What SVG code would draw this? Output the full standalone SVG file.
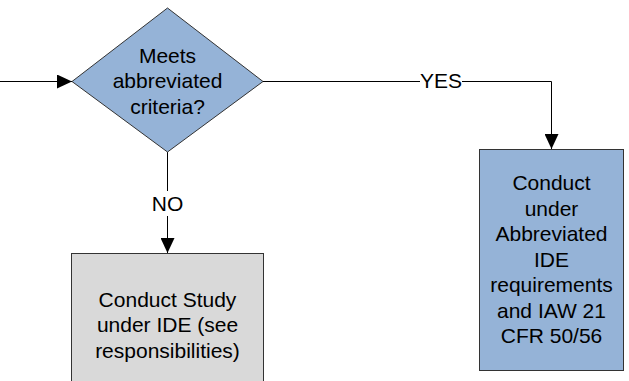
<svg xmlns="http://www.w3.org/2000/svg" width="629" height="381" viewBox="0 0 629 381">
<defs>
<style>
.t{font-family:"Liberation Sans",Arial,sans-serif;font-size:21px;fill:#000;text-anchor:middle}
.c{fill:none;stroke:#000;stroke-width:1}
.n{stroke:#333;stroke-width:1}
</style>
<marker id="a" markerWidth="15" markerHeight="14" refX="15" refY="7" orient="auto" markerUnits="userSpaceOnUse">
<path d="M0,0 L15,7 L0,14 Z" fill="#000"/>
</marker>
</defs>
<rect width="629" height="381" fill="#fff"/>
<g id="connectors">
<line class="c" x1="0" y1="81.5" x2="72" y2="81.5" marker-end="url(#a)"/>
<path class="c" d="M263,81.5 H420 M462,81.5 H551.5 V149" marker-end="url(#a)"/>
<path class="c" d="M167.5,152 V191 M167.5,216 V253" marker-end="url(#a)"/>
<text class="t" x="441" y="88">YES</text>
<text class="t" x="167.5" y="211">NO</text>
</g>
<g id="decision">
<polygon class="n" points="167.5,8 263,81.5 167.5,152 72,81.5" fill="#95b3d7"/>
<text class="t" x="167.5" y="62.5">Meets</text>
<text class="t" x="167.5" y="88">abbreviated</text>
<text class="t" x="167.5" y="113.5">criteria?</text>
</g>
<g id="conduct-ide">
<rect class="n" x="71.5" y="253.5" width="192" height="140" fill="#d9d9d9"/>
<text class="t" x="167.5" y="306.5">Conduct Study</text>
<text class="t" x="167.5" y="332">under IDE (see</text>
<text class="t" x="167.5" y="357.5">responsibilities)</text>
</g>
<g id="conduct-abbrev">
<rect class="n" x="479.5" y="149.5" width="144" height="221" fill="#95b3d7"/>
<text class="t" x="551.5" y="190">Conduct</text>
<text class="t" x="551.5" y="215.5">under</text>
<text class="t" x="551.5" y="241">Abbreviated</text>
<text class="t" x="551.5" y="266.5">IDE</text>
<text class="t" x="551.5" y="292">requirements</text>
<text class="t" x="551.5" y="317.5">and IAW 21</text>
<text class="t" x="551.5" y="343">CFR 50/56</text>
</g>
</svg>
